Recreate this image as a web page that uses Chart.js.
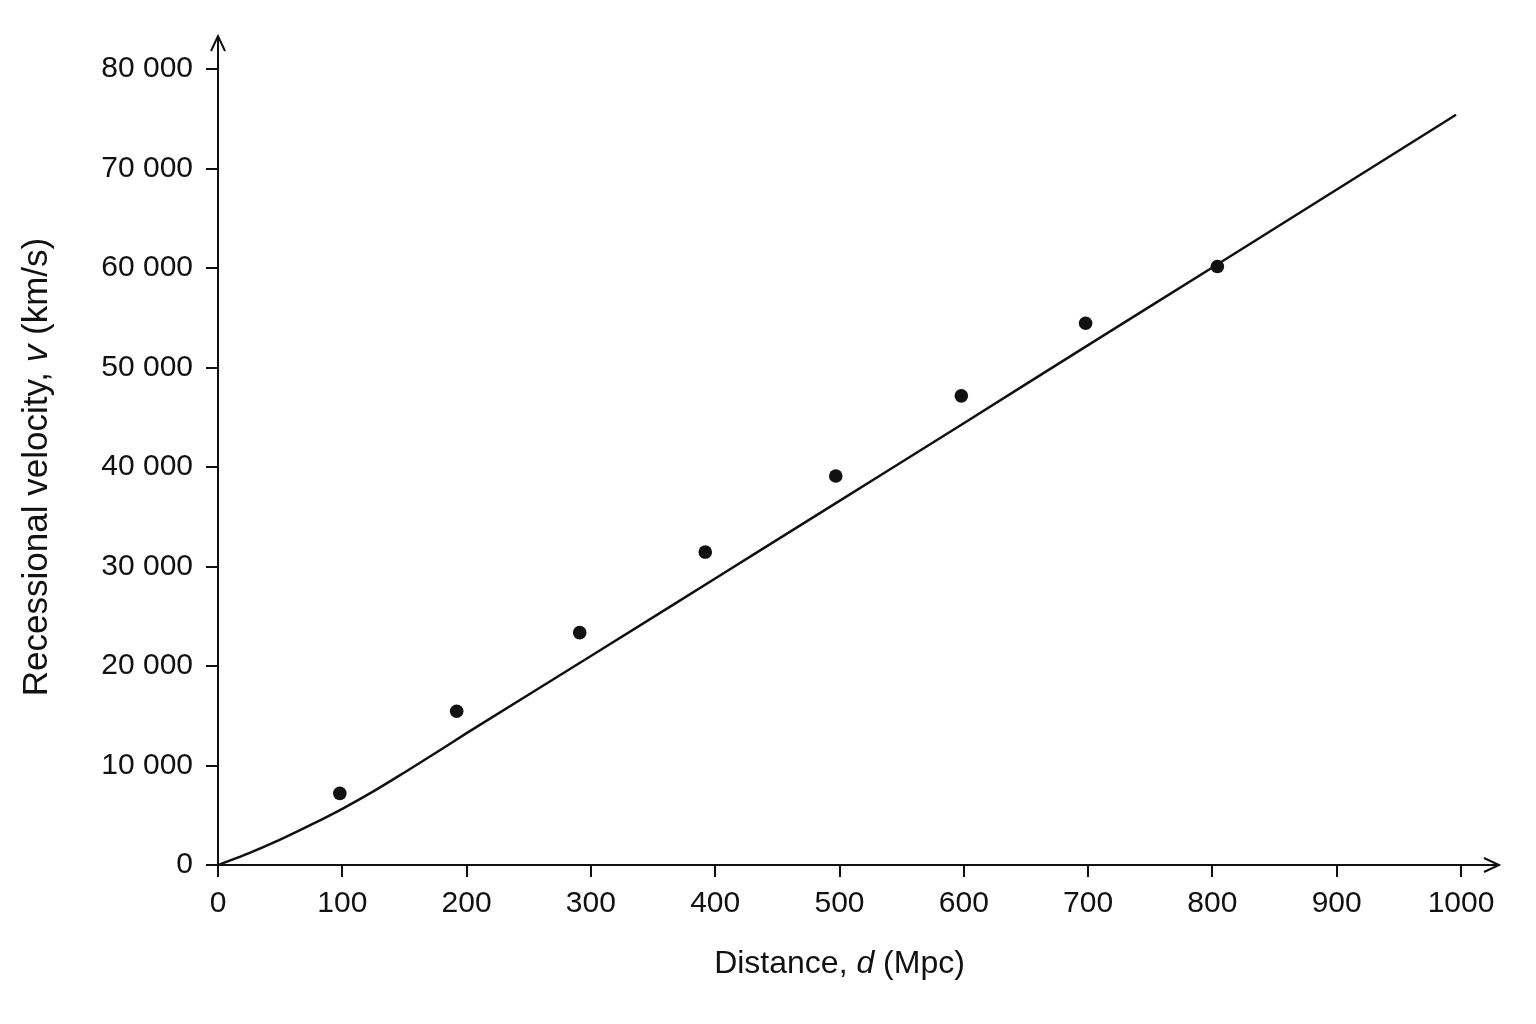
<!DOCTYPE html>
<html>
<head>
<meta charset="utf-8">
<title>Recessional velocity vs distance</title>
<script src="https://cdn.jsdelivr.net/npm/chart.js@4.4.1/dist/chart.umd.min.js"></script>
<style>
  html, body { margin: 0; padding: 0; background: #fff; }
  #wrap { width: 1536px; height: 1024px; }
</style>
</head>
<body>
<div id="wrap"><canvas id="chart" width="1536" height="1024"></canvas></div>
<script>
// measured galaxies (distance in Mpc, velocity in km/s)
const dotDistance = [98, 192, 291, 392, 497, 598, 698, 804];
const dotVelocity = [7200, 15450, 23350, 31450, 39100, 47150, 54450, 60150];

// fitted curve
const lineDistance = [0, 25, 50, 75, 100, 125, 150, 175, 200, 300, 400, 500, 600, 700, 800, 996];
const lineVelocity = [0, 1200, 2550, 4050, 5650, 7400, 9300, 11250, 13250, 21000, 28800, 36600, 44400, 52250, 60050, 75400];

const xTicks = [0, 100, 200, 300, 400, 500, 600, 700, 800, 900, 1000];
const yTicks = [0, 10000, 20000, 30000, 40000, 50000, 60000, 70000, 80000];

// axis titles, split so the symbol can be italic
const xTitle = [['Distance, ', false], ['d', true], [' (Mpc)', false]];
const yTitle = [['Recessional velocity, ', false], ['v', true], [' (km/s)', false]];

const INK = '#111';
const FONT = "'Liberation Sans', Arial, sans-serif";

const toPoints = (xs, ys) => xs.map((x, i) => ({ x: x, y: ys[i] }));

// axis lines with open arrow heads, drawn past the last tick
const arrowAxes = {
    id: 'arrowAxes',
    afterDraw(chart) {
        const ctx = chart.ctx;
        const x0 = chart.scales.x.getPixelForValue(0);
        const y0 = chart.scales.y.getPixelForValue(0);
        const xEnd = chart.chartArea.right + 38;
        const yEnd = chart.chartArea.top - 33;
        ctx.save();
        ctx.strokeStyle = INK;
        ctx.lineWidth = 2;
        ctx.beginPath();
        ctx.moveTo(x0, y0);
        ctx.lineTo(xEnd, y0);
        ctx.moveTo(x0, y0);
        ctx.lineTo(x0, yEnd);
        // arrow heads
        ctx.moveTo(xEnd - 15, y0 - 7);
        ctx.lineTo(xEnd, y0);
        ctx.lineTo(xEnd - 15, y0 + 7);
        ctx.moveTo(x0 - 7, yEnd + 15);
        ctx.lineTo(x0, yEnd);
        ctx.lineTo(x0 + 7, yEnd + 15);
        ctx.stroke();
        ctx.restore();
    }
};

// writes a title made of normal/italic pieces, centred on (cx, cy)
function drawMixed(ctx, parts, size, cx, cy, angle) {
    ctx.save();
    ctx.translate(cx, cy);
    ctx.rotate(angle);
    ctx.fillStyle = INK;
    ctx.textBaseline = 'middle';
    ctx.textAlign = 'left';
    const fontFor = (it) => (it ? 'italic ' : '') + size + 'px ' + FONT;
    let total = 0;
    parts.forEach(([t, it]) => { ctx.font = fontFor(it); total += ctx.measureText(t).width; });
    let x = -total / 2;
    parts.forEach(([t, it]) => {
        ctx.font = fontFor(it);
        ctx.fillText(t, x, 0);
        x += ctx.measureText(t).width;
    });
    ctx.restore();
}

const axisTitles = {
    id: 'axisTitles',
    afterDraw(chart) {
        const a = chart.chartArea;
        drawMixed(chart.ctx, xTitle, 32, (a.left + a.right) / 2, 964, 0);
        drawMixed(chart.ctx, yTitle, 35, 37, (a.top + a.bottom) / 2, -Math.PI / 2);
    }
};

const ctx = document.getElementById('chart').getContext('2d');
new Chart(ctx, {
    type: 'scatter',
    data: {
        datasets: [
            {
                label: 'Fit',
                data: toPoints(lineDistance, lineVelocity),
                showLine: true,
                borderColor: INK,
                borderWidth: 2.5,
                pointRadius: 0,
                cubicInterpolationMode: 'monotone',
                clip: false
            },
            {
                label: 'Galaxies',
                data: toPoints(dotDistance, dotVelocity),
                backgroundColor: INK,
                borderColor: INK,
                pointRadius: 6.8,
                pointBorderWidth: 0,
                clip: false
            }
        ]
    },
    options: {
        responsive: false,
        animation: false,
        devicePixelRatio: 1,
        layout: { padding: { top: 69, right: 75, left: 0, bottom: 0 } },
        plugins: {
            legend: { display: false },
            tooltip: { enabled: false }
        },
        scales: {
            x: {
                type: 'linear',
                min: 0,
                max: 1000,
                afterFit: (scale) => { scale.height = 159; },
                afterBuildTicks: (scale) => { scale.ticks = xTicks.map(v => ({ value: v })); },
                border: { display: false },
                grid: { drawOnChartArea: false, tickLength: 12, color: INK, lineWidth: 2 },
                ticks: {
                    color: INK,
                    padding: 9,
                    font: { family: FONT, size: 30 },
                    callback: (v) => String(v)
                }
            },
            y: {
                type: 'linear',
                min: 0,
                max: 80000,
                afterFit: (scale) => { scale.width = 218; },
                afterBuildTicks: (scale) => { scale.ticks = yTicks.map(v => ({ value: v })); },
                border: { display: false },
                grid: { drawOnChartArea: false, tickLength: 12, color: INK, lineWidth: 2 },
                ticks: {
                    color: INK,
                    padding: 13,
                    font: { family: FONT, size: 30 },
                    callback: (v) => String(v).replace(/\B(?=(\d{3})+(?!\d))/g, ' ')
                }
            }
        }
    },
    plugins: [arrowAxes, axisTitles]
});
</script>
</body>
</html>
